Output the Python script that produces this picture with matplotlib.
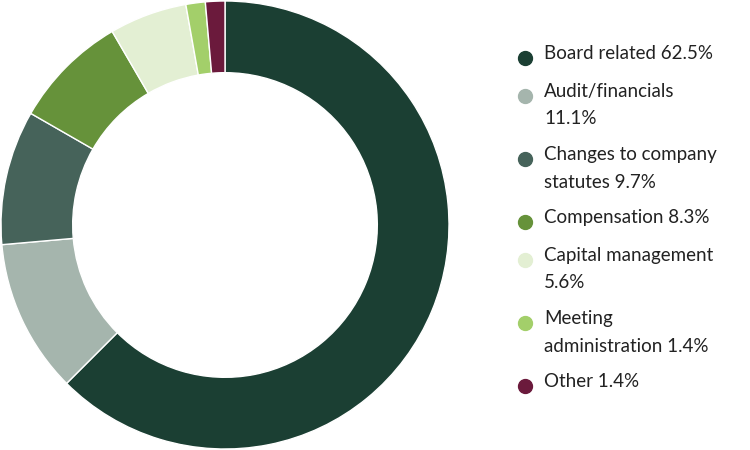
import matplotlib
matplotlib.use("Agg")
import matplotlib.pyplot as plt

categories = ["Board related", "Audit/financials", "Changes to company statutes",
              "Compensation", "Capital management", "Meeting administration", "Other"]
values = [62.5, 11.1, 9.7, 8.3, 5.6, 1.4, 1.4]
legend_labels = ["Board related 62.5%", "Audit/financials\n11.1%",
                 "Changes to company\nstatutes 9.7%", "Compensation 8.3%",
                 "Capital management\n5.6%", "Meeting\nadministration 1.4%", "Other 1.4%"]
colors = ["#1b3f33", "#a5b5ad", "#46635a", "#66923a", "#e3efd3", "#a3cf6a", "#6b1a3c"]

W, H = 750, 450
fig = plt.figure(figsize=(W/100, H/100), dpi=100)
ax = fig.add_axes([1/W, 1/H, 448/W, 448/H])
ax.pie(values, colors=colors, startangle=90, counterclock=False, radius=1,
       wedgeprops=dict(width=0.32, edgecolor="white", linewidth=1))
ax.set_xlim(-1.0, 1.0)
ax.set_ylim(-1.0, 1.0)
ax.set_aspect("equal")

font = "Lato"
y = 58
for lab, c in zip(legend_labels, colors):
    n = lab.count("\n") + 1
    fig.lines.append(matplotlib.lines.Line2D([525/W], [1 - y/H], marker="o", markersize=10,
                     color=c, transform=fig.transFigure, linestyle=""))
    fig.text(544/W, 1 - (y - 13)/H, lab, fontsize=13.5, family=font, color="#222222",
             va="top", ha="left", linespacing=1.75)
    y += 28 * (n - 1) + 35 + (3 if n == 1 else 0)

fig.savefig("out.png", dpi=100)
